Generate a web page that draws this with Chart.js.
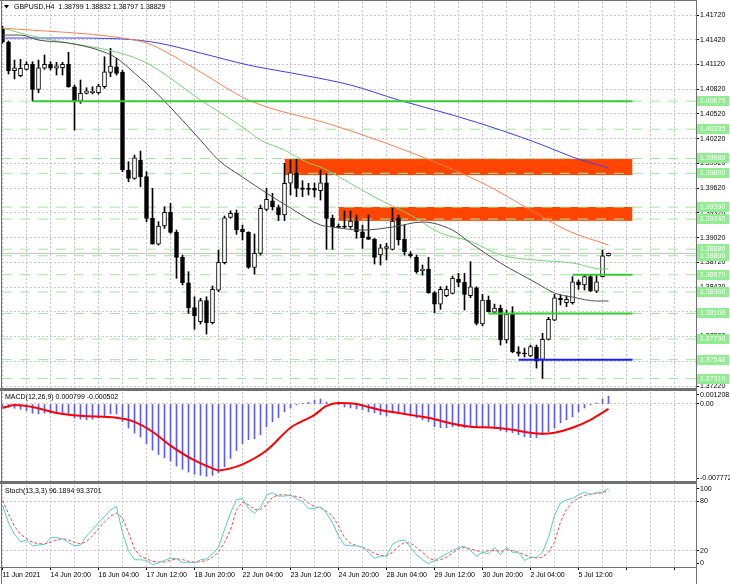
<!DOCTYPE html>
<html>
<head>
<meta charset="utf-8">
<script src="https://cdn.jsdelivr.net/npm/chart.js@4.4.1/dist/chart.umd.min.js"></script>
<style>
  html, body { margin: 0; padding: 0; background: #fff; }
  #wrap { position: relative; width: 730px; height: 584px; overflow: hidden; }
  canvas { position: absolute; left: 0; }
</style>
</head>
<body>
<div id="wrap">
  <canvas id="priceChart" width="730" height="389" style="top:0px"></canvas>
  <canvas id="macdChart" width="730" height="93" style="top:389px"></canvas>
  <canvas id="stochChart" width="730" height="102" style="top:482px"></canvas>
</div>
<script>
// GBPUSD H4 candles, bar 0 = 11 Jun 2021 00:00
var timeLabels = ["11 Jun 2021", "14 Jun 20:00", "16 Jun 04:00", "17 Jun 12:00", "18 Jun 20:00",
  "22 Jun 04:00", "23 Jun 12:00", "24 Jun 20:00", "28 Jun 04:00", "29 Jun 12:00",
  "30 Jun 20:00", "2 Jul 04:00", "5 Jul 12:00"];

var opens = [
  1.41562, 1.41393, 1.41044, 1.40984, 1.41061, 1.41122, 1.40819, 1.41074, 1.41122, 1.41074,
  1.41081, 1.41122, 1.40850, 1.40677, 1.40770, 1.40777, 1.40777, 1.40850, 1.41025, 1.41093,
  1.41025, 1.39840, 1.39739, 1.39961, 1.39759, 1.39254, 1.38942, 1.39161, 1.39327, 1.39084,
  1.38781, 1.38473, 1.38170, 1.38000, 1.38255, 1.37988, 1.38384, 1.38715, 1.39266, 1.39315,
  1.39121, 1.39084, 1.38660, 1.38829, 1.39363, 1.39467, 1.39383, 1.39294, 1.39679, 1.39807,
  1.39625, 1.39618, 1.39618, 1.39589, 1.39686, 1.39254, 1.39152, 1.39152, 1.39152, 1.39221,
  1.39091, 1.39031, 1.38999, 1.38809, 1.38890, 1.38878, 1.39261, 1.38999, 1.38821, 1.38781,
  1.38618, 1.38639, 1.38352, 1.38214, 1.38315, 1.38344, 1.38518, 1.38478, 1.38315, 1.38412,
  1.37972, 1.38263, 1.38117, 1.38166, 1.37778, 1.38093, 1.37636, 1.37624, 1.37584, 1.37693,
  1.37544, 1.37786, 1.38020, 1.38284, 1.38230, 1.38230, 1.38485, 1.38445, 1.38546, 1.38372,
  1.38546, 1.38799];
var highs = [
  1.41587, 1.41405, 1.41174, 1.41183, 1.41154, 1.41154, 1.41174, 1.41235, 1.41154, 1.41146,
  1.41146, 1.41268, 1.40871, 1.40932, 1.40838, 1.40850, 1.40879, 1.41214, 1.41316, 1.41195,
  1.41053, 1.39941, 1.40022, 1.40070, 1.39819, 1.39618, 1.39213, 1.39395, 1.39436, 1.39112,
  1.38809, 1.38606, 1.38303, 1.38284, 1.38303, 1.38433, 1.38869, 1.39282, 1.39346, 1.39355,
  1.39173, 1.39091, 1.39064, 1.39415, 1.39618, 1.39557, 1.39415, 1.39921, 1.39961, 1.39970,
  1.39710, 1.39679, 1.39682, 1.39840, 1.39800, 1.39294, 1.39185, 1.39343, 1.39343, 1.39294,
  1.39173, 1.39294, 1.39011, 1.38939, 1.38951, 1.39375, 1.39294, 1.39173, 1.38849, 1.38809,
  1.38688, 1.38781, 1.38364, 1.38426, 1.38433, 1.38554, 1.38587, 1.38587, 1.38728, 1.38424,
  1.38332, 1.38312, 1.38214, 1.38202, 1.38142, 1.38182, 1.37697, 1.37681, 1.37717, 1.37717,
  1.37859, 1.38053, 1.38332, 1.38324, 1.38312, 1.38546, 1.38506, 1.38566, 1.38566, 1.38566,
  1.38869, 1.38832];
var lows = [
  1.41380, 1.41004, 1.40944, 1.40972, 1.41053, 1.40677, 1.40777, 1.41061, 1.41053, 1.40992,
  1.40992, 1.40843, 1.40325, 1.40649, 1.40762, 1.40762, 1.40762, 1.40831, 1.40972, 1.40992,
  1.39819, 1.39698, 1.39727, 1.39637, 1.39213, 1.38942, 1.38930, 1.39133, 1.39072, 1.38526,
  1.38445, 1.38102, 1.37908, 1.37972, 1.37851, 1.37972, 1.38364, 1.38700, 1.39254, 1.39060,
  1.38991, 1.38648, 1.38578, 1.38809, 1.39346, 1.39355, 1.39225, 1.39225, 1.39537, 1.39516,
  1.39516, 1.39537, 1.39512, 1.39476, 1.38878, 1.38878, 1.39136, 1.39133, 1.39133, 1.39011,
  1.38890, 1.38999, 1.38700, 1.38688, 1.38748, 1.38869, 1.38930, 1.38809, 1.38781, 1.38587,
  1.38566, 1.38344, 1.38109, 1.38150, 1.38303, 1.38336, 1.38424, 1.38142, 1.38291, 1.37960,
  1.37951, 1.38117, 1.38105, 1.37717, 1.37741, 1.37624, 1.37584, 1.37572, 1.37575, 1.37438,
  1.37313, 1.37778, 1.38012, 1.38202, 1.38182, 1.38214, 1.38393, 1.38384, 1.38364, 1.38352,
  1.38542, 1.38797];
var closes = [
  1.41393, 1.41041, 1.41081, 1.41073, 1.41122, 1.40819, 1.41081, 1.41122, 1.41074, 1.41105,
  1.41122, 1.40850, 1.40680, 1.40770, 1.40802, 1.40798, 1.40859, 1.41032, 1.41101, 1.41013,
  1.39840, 1.39739, 1.39989, 1.39759, 1.39254, 1.38942, 1.39161, 1.39327, 1.39084, 1.38781,
  1.38473, 1.38170, 1.38069, 1.38255, 1.37988, 1.38393, 1.38720, 1.39261, 1.39315, 1.39112,
  1.39091, 1.38660, 1.38829, 1.39375, 1.39484, 1.39395, 1.39294, 1.39679, 1.39807, 1.39618,
  1.39606, 1.39606, 1.39597, 1.39686, 1.39254, 1.39152, 1.39145, 1.39148, 1.39221, 1.39091,
  1.39019, 1.38999, 1.38781, 1.38897, 1.38910, 1.39221, 1.38991, 1.38849, 1.38797, 1.38606,
  1.38639, 1.38352, 1.38214, 1.38393, 1.38393, 1.38526, 1.38478, 1.38332, 1.38424, 1.37980,
  1.38263, 1.38121, 1.38166, 1.37778, 1.38093, 1.37636, 1.37616, 1.37608, 1.37697, 1.37523,
  1.37786, 1.38029, 1.38291, 1.38263, 1.38271, 1.38485, 1.38445, 1.38546, 1.38372, 1.38485,
  1.38799, 1.38829];

// moving averages, read at a few bars
var fastBars = [0, 3, 6, 11, 16, 19, 22, 26, 33, 36, 40, 44, 48, 53, 55, 60, 65, 70, 75, 78, 83, 89, 92, 95, 99, 101];
var fastMA = [1.41477, 1.41477, 1.41417, 1.41380, 1.41295, 1.41198, 1.41016, 1.40750, 1.40203, 1.39961,
  1.39755, 1.39561, 1.39379, 1.39173, 1.39148, 1.39111, 1.39148, 1.39209, 1.39111, 1.38954,
  1.38712, 1.38469, 1.38348, 1.38299, 1.38251, 1.38251];
var midBars = [0, 5, 11, 13, 19, 23, 26, 33, 40, 43, 47, 51, 53, 57, 62, 68, 73, 78, 83, 89, 95, 100, 101];
var midMA = [1.41562, 1.41465, 1.41380, 1.41356, 1.41271, 1.41174, 1.41053, 1.40689, 1.40361, 1.40203,
  1.40082, 1.39925, 1.39876, 1.39718, 1.39512, 1.39294, 1.39076, 1.38975, 1.38809, 1.38747,
  1.38712, 1.38639, 1.38639];
var slowBars = [0, 20, 24, 26, 33, 41, 55, 67, 80, 88, 94, 101];
var slowMA = [1.41562, 1.41441, 1.41380, 1.41320, 1.41029, 1.40689, 1.40386, 1.40082, 1.39682, 1.39355, 1.39111, 1.38930];
var longBars = [0, 10, 20, 26, 33, 41, 50, 58, 66, 75, 83, 90, 95, 101];
var longMA = [1.41441, 1.41441, 1.41429, 1.41380, 1.41259, 1.41113, 1.40992, 1.40871, 1.40689, 1.40507,
  1.40325, 1.40143, 1.39998, 1.39864];

// price axis ticks and drawn levels
var priceTicks = [1.41720, 1.41420, 1.41120, 1.40820, 1.40520, 1.40220, 1.39920, 1.39620,
  1.39320, 1.39020, 1.38720, 1.38420, 1.38120, 1.37820, 1.37520, 1.37220];
var levels = [1.40675, 1.40335, 1.39980, 1.39800, 1.39390, 1.39245, 1.38880, 1.38800,
  1.38570, 1.38360, 1.38100, 1.37790, 1.37540, 1.37310];
var trendLevels = [1.40675, 1.38570, 1.38100, 1.37540];
var trendStart = [5, 95, 81, 86];
var zoneHigh = [1.39970, 1.39385];
var zoneLow = [1.39785, 1.39230];
var zoneStart = [47, 56];
var objectEnd = 105;

// MACD(12,26,9)
var macdMain = [
  -0.00027, -0.00033, -0.00043, -0.00053, -0.00067, -0.00093, -0.00100, -0.00093, -0.00093, -0.00093,
  -0.00093, -0.00110, -0.00143, -0.00153, -0.00160, -0.00153, -0.00143, -0.00120, -0.00100, -0.00100,
  -0.00177, -0.00243, -0.00293, -0.00333, -0.00400, -0.00467, -0.00510, -0.00543, -0.00577, -0.00627,
  -0.00660, -0.00687, -0.00710, -0.00720, -0.00730, -0.00720, -0.00693, -0.00633, -0.00550, -0.00470,
  -0.00400, -0.00360, -0.00350, -0.00310, -0.00230, -0.00180, -0.00140, -0.00080, -0.00040, -0.00010,
  0.00002, 0.00017, 0.00040, 0.00050, 0.00020, 0.00000, -0.00010, -0.00030, -0.00040, -0.00050,
  -0.00060, -0.00080, -0.00090, -0.00110, -0.00120, -0.00090, -0.00090, -0.00100, -0.00120, -0.00140,
  -0.00160, -0.00180, -0.00230, -0.00240, -0.00240, -0.00230, -0.00230, -0.00240, -0.00230, -0.00240,
  -0.00240, -0.00240, -0.00250, -0.00270, -0.00280, -0.00290, -0.00310, -0.00330, -0.00340, -0.00340,
  -0.00310, -0.00280, -0.00240, -0.00190, -0.00160, -0.00130, -0.00080, -0.00040, -0.00010, 0.00010,
  0.00050, 0.000799];
var signalBars = [0, 2, 5, 9, 13, 19, 22, 25, 28, 32, 35, 36, 38, 40, 44, 48, 52, 54, 56, 59,
  61, 63, 66, 69, 71, 75, 78, 82, 85, 88, 90, 92, 95, 98, 101];
var macdSignal = [-0.0004, -0.0001, -0.0003, -0.0009, -0.0012, -0.0014, -0.0018, -0.0028, -0.0042, -0.0057,
  -0.0065, -0.0067, -0.0065, -0.0061, -0.0047, -0.0024, -0.0011, -0.0002, 0.0001, 0.0000,
  -0.0003, -0.0006, -0.0009, -0.0012, -0.0014, -0.0020, -0.0023, -0.0024, -0.0026, -0.0029,
  -0.0030, -0.0029, -0.0024, -0.0016, -0.000502];
var macdMax = 0.001208;
var macdMin = -0.007772;

// Stochastic(13,3,3)
var stochK = [
  75.5, 53.7, 39.8, 30.6, 33.0, 25.8, 26.7, 27.5, 35.4, 35.8,
  34.6, 29.9, 25.8, 26.7, 37.7, 45.7, 53.7, 61.5, 69.5, 73.5,
  41.8, 19.9, 8.8, 8.8, 8.0, 2.9, 5.2, 8.0, 10.8, 10.0,
  5.2, 6.0, 4.9, 8.8, 10.0, 16.0, 23.9, 45.7, 66.0, 82.3,
  83.5, 71.5, 65.6, 72.7, 87.4, 90.6, 86.5, 86.5, 87.4, 83.5,
  79.4, 71.5, 71.5, 73.5, 65.6, 53.7, 37.8, 26.7, 25.8, 25.8,
  23.9, 18.0, 10.8, 13.2, 13.6, 27.9, 31.8, 33.0, 23.9, 15.1,
  9.0, 4.0, 8.0, 12.0, 16.0, 20.0, 24.0, 25.0, 20.0, 13.2,
  18.0, 16.0, 23.9, 15.1, 23.9, 18.0, 18.0, 8.0, 12.0, 11.5,
  18.0, 36.0, 63.0, 78.0, 82.0, 83.5, 88.0, 91.3, 88.2, 91.0,
  91.3, 96.1894];
var stochD = [
  81.4, 65.0, 49.6, 40.0, 34.6, 30.0, 28.5, 28.0, 30.0, 33.0,
  34.6, 33.0, 30.0, 28.0, 31.0, 38.0, 47.0, 55.0, 62.0, 66.0,
  60.0, 42.0, 22.0, 13.0, 10.0, 7.0, 6.0, 6.0, 8.0, 10.0,
  9.0, 7.0, 6.0, 6.5, 8.0, 12.0, 18.0, 30.0, 45.0, 70.0,
  79.0, 76.0, 70.0, 70.0, 76.0, 85.0, 88.0, 88.0, 87.4, 86.0,
  84.0, 78.0, 73.5, 72.0, 68.0, 62.0, 50.0, 36.0, 29.0, 26.0,
  24.0, 21.0, 16.5, 14.0, 13.5, 18.0, 25.0, 30.0, 29.0, 24.0,
  18.0, 11.0, 8.0, 9.0, 12.0, 17.0, 22.0, 23.9, 22.0, 19.9,
  18.0, 19.9, 20.0, 19.0, 21.0, 20.0, 18.0, 15.0, 12.0, 11.0,
  12.0, 18.0, 30.0, 55.0, 70.0, 79.4, 84.0, 87.0, 89.0, 89.4,
  90.5, 93.3701];
var stochLevels = [80, 20];

Chart.defaults.font.family = '"Liberation Sans", Arial, sans-serif';
Chart.defaults.font.size = 7;
Chart.defaults.color = "#000";

var LAST = closes.length - 1;
var X_MIN = -0.0833, X_MAX = 115.5833;
var GRID_BARS = [];
for (var b = 0; b <= 112; b += 4) GRID_BARS.push(b);
var GRID_COLOR = "#c8c8c8";
var FRAME = "#707070";
var NONE = "rgba(0,0,0,0)";
var TXT = '7px "Liberation Sans", Arial, sans-serif';

function noPad(s) {
  s.paddingTop = 0; s.paddingBottom = 0; s.paddingLeft = 0; s.paddingRight = 0;
}

function xScale(withLabels) {
  return {
    type: "linear", min: X_MIN, max: X_MAX, offset: false,
    afterBuildTicks: function (s) { s.ticks = GRID_BARS.map(function (v) { return { value: v }; }); },
    afterFit: function (s) { s.height = withLabels ? 17 : 0; noPad(s); },
    grid: {
      color: GRID_COLOR, offset: false, drawTicks: withLabels, tickLength: 3, tickBorderDash: [],
      tickColor: function (c) { return (c.tick && c.tick.value % 8 === 0) ? "#000" : NONE; }
    },
    border: { display: false, dash: [2, 2] },
    ticks: {
      display: withLabels, autoSkip: false, maxRotation: 0, minRotation: 0, align: "start", padding: 1,
      callback: function (v) { return (v % 8 === 0 && timeLabels[v / 8]) ? timeLabels[v / 8] : ""; }
    }
  };
}

function yScale(min, max, tickVals, labelFn, gridFn) {
  return {
    position: "right", min: min, max: max,
    afterBuildTicks: function (s) { s.ticks = tickVals.map(function (v) { return { value: v }; }); },
    afterFit: function (s) { s.width = 34; noPad(s); },
    grid: {
      color: function (c) { return gridFn(c.tick.value) ? GRID_COLOR : NONE; },
      tickLength: 3, tickColor: "#000", tickBorderDash: []
    },
    border: { display: false, dash: [2, 2] },
    ticks: { padding: 1, autoSkip: false, callback: labelFn }
  };
}

function hLine(x0, x1, v, color, width, dash, order) {
  return {
    type: "line", data: [{ x: x0, y: v }, { x: x1, y: v }],
    borderColor: color, borderWidth: width, borderDash: dash || [], pointRadius: 0, fill: false, order: order
  };
}

function maLine(bars, vals, color) {
  return {
    type: "line", data: bars.map(function (x, i) { return { x: x, y: vals[i] }; }),
    borderColor: color, borderWidth: 1, pointRadius: 0, cubicInterpolationMode: "monotone", fill: false, order: 40
  };
}

function frame(chart, topRows, bottomRows) {
  var ctx = chart.ctx, a = chart.chartArea, h = chart.height;
  ctx.save();
  ctx.fillStyle = FRAME;
  ctx.fillRect(1, 0, 1, h);
  ctx.fillRect(Math.round(a.right), 0, 1, h);
  if (topRows) ctx.fillRect(0, 0, Math.round(a.right) + 1, topRows);
  if (bottomRows) ctx.fillRect(0, Math.round(a.bottom), Math.round(a.right) + 1, bottomRows);
  ctx.restore();
}

// ---------- price panel ----------
var priceSets = [];
zoneHigh.forEach(function (top, k) {
  priceSets.push(hLine(zoneStart[k], objectEnd, top, "#ff4500", 1, null, 100));
  var low = hLine(zoneStart[k], objectEnd, zoneLow[k], "#ff4500", 1, null, 100);
  low.fill = "-1";
  low.backgroundColor = "#ff4500";
  priceSets.push(low);
});
levels.forEach(function (v) { priceSets.push(hLine(X_MIN, X_MAX, v, "#9ee89e", 1, [10, 8], 90)); });
priceSets.push(hLine(X_MIN, X_MAX, closes[LAST], "#c0c0c0", 1, null, 85));
priceSets.push({
  type: "bar", label: "wick",
  data: highs.map(function (h, i) { return { x: i, y: [lows[i], h] }; }),
  backgroundColor: "#000", borderWidth: 0, barThickness: 1, grouped: false, order: 70
});
priceSets.push({
  type: "bar", label: "body",
  data: opens.map(function (o, i) { return { x: i, y: [o, closes[i]] }; }),
  backgroundColor: function (c) { return closes[c.dataIndex] >= opens[c.dataIndex] ? "#fff" : "#000"; },
  borderColor: "#000", borderWidth: 1, borderSkipped: false, barThickness: 4, minBarLength: 1,
  grouped: false, order: 60
});
priceSets.push(maLine(fastBars, fastMA, "#505050"));
priceSets.push(maLine(midBars, midMA, "#74d474"));
priceSets.push(maLine(slowBars, slowMA, "#ff7f50"));
priceSets.push(maLine(longBars, longMA, "#3c3cff"));
trendLevels.forEach(function (v, k) {
  priceSets.push(hLine(trendStart[k], objectEnd, v, k === 3 ? "#1a1aff" : "#33cc33", 2, null, 30));
});

var priceDecor = {
  id: "priceDecor",
  afterDraw: function (chart) {
    var ctx = chart.ctx, a = chart.chartArea, y = chart.scales.y;
    ctx.save();
    ctx.font = TXT;
    ctx.textBaseline = "middle";
    levels.forEach(function (v) {
      var py = Math.round(y.getPixelForValue(v));
      ctx.fillStyle = "#90ee90";
      ctx.fillRect(Math.round(a.right) + 1, py - 5, 32, 10);
      ctx.fillStyle = "#ffffff";
      ctx.fillText(v.toFixed(5), Math.round(a.right) + 4, py);
    });
    ctx.fillStyle = "#000";
    ctx.beginPath();
    ctx.moveTo(4, 5); ctx.lineTo(9, 5); ctx.lineTo(6.5, 8.5); ctx.closePath(); ctx.fill();
    var ohlc = [opens[LAST], highs[LAST], lows[LAST], closes[LAST]].map(function (v) { return v.toFixed(5); });
    ctx.fillText("GBPUSD,H4  " + ohlc.join(" "), 14, 7);
    ctx.restore();
    frame(chart, 1, 1);
  }
};

new Chart(document.getElementById("priceChart"), {
  type: "line",
  data: { datasets: priceSets },
  options: {
    responsive: false, animation: false, events: [],
    layout: { padding: { left: 2, top: 2, right: 0, bottom: 1 } },
    plugins: { legend: { display: false }, tooltip: { enabled: false } },
    scales: {
      x: xScale(false),
      y: yScale(1.37196, 1.41878, priceTicks, function (v) { return v.toFixed(5); }, function () { return true; })
    }
  },
  plugins: [priceDecor]
});

// ---------- MACD panel ----------
var macdInset = (macdMax - macdMin) * 3 / 89;
new Chart(document.getElementById("macdChart"), {
  type: "line",
  data: {
    datasets: [
      {
        type: "bar", data: macdMain.map(function (v, i) { return { x: i, y: v }; }),
        backgroundColor: "#5c5cff", borderWidth: 0, barThickness: 1, grouped: false, order: 20
      },
      {
        type: "line", data: signalBars.map(function (x, i) { return { x: x, y: macdSignal[i] }; }),
        borderColor: "#ff0000", borderWidth: 2, pointRadius: 0, cubicInterpolationMode: "monotone", fill: false, order: 10
      }
    ]
  },
  options: {
    responsive: false, animation: false, events: [],
    layout: { padding: { left: 2, top: 3, right: 0, bottom: 1 } },
    plugins: { legend: { display: false }, tooltip: { enabled: false } },
    scales: {
      x: xScale(false),
      y: yScale(macdMin, macdMax, [macdMax - macdInset, 0, macdMin + macdInset],
        function (v) { return v > 0 ? macdMax.toFixed(6) : (v === 0 ? "0.00" : macdMin.toFixed(6)); },
        function (v) { return v === 0; })
    }
  },
  plugins: [{
    id: "macdDecor",
    afterDraw: function (chart) {
      var ctx = chart.ctx;
      ctx.save();
      ctx.font = TXT;
      ctx.textBaseline = "middle";
      ctx.fillStyle = "#000";
      ctx.fillText("MACD(12,26,9) " + macdMain[LAST].toFixed(6) + " " + macdSignal[macdSignal.length - 1].toFixed(6), 5, 8);
      ctx.restore();
      frame(chart, 2, 1);
    }
  }]
});

// ---------- Stochastic panel ----------
var stochInset = 100 * 4 / 82;
new Chart(document.getElementById("stochChart"), {
  type: "line",
  data: {
    datasets: [
      {
        data: stochK.map(function (v, i) { return { x: i, y: v }; }),
        borderColor: "#4fcfc8", borderWidth: 1, pointRadius: 0, fill: false, order: 10
      },
      {
        data: stochD.map(function (v, i) { return { x: i, y: v }; }),
        borderColor: "#ff4040", borderWidth: 1, borderDash: [3, 2], pointRadius: 0, fill: false, order: 20
      }
    ]
  },
  options: {
    responsive: false, animation: false, events: [],
    layout: { padding: { left: 2, top: 3, right: 0, bottom: 0 } },
    plugins: { legend: { display: false }, tooltip: { enabled: false } },
    scales: {
      x: xScale(true),
      y: yScale(0, 100, [100 - stochInset, stochLevels[0], stochLevels[1], stochInset],
        function (v) { return v > 90 ? "100" : (v < 10 ? "0" : String(v)); },
        function (v) { return stochLevels.indexOf(v) >= 0; })
    }
  },
  plugins: [{
    id: "stochDecor",
    afterDraw: function (chart) {
      var ctx = chart.ctx;
      ctx.save();
      ctx.font = TXT;
      ctx.textBaseline = "middle";
      ctx.fillStyle = "#000";
      ctx.fillText("Stoch(13,3,3) " + stochK[LAST].toFixed(4) + " " + stochD[LAST].toFixed(4), 5, 9);
      ctx.restore();
      frame(chart, 2, 1);
    }
  }]
});
</script>
</body>
</html>
